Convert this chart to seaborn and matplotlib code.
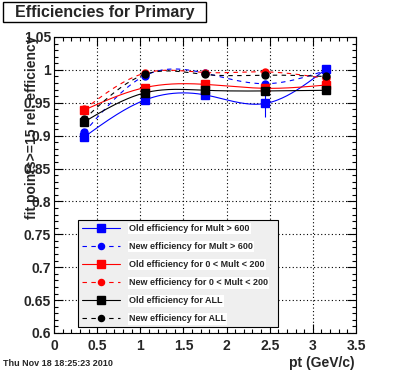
import numpy as np
import pandas as pd
import matplotlib
matplotlib.use("Agg")
import matplotlib.pyplot as plt
from matplotlib.lines import Line2D
from matplotlib.patches import Rectangle
from matplotlib.ticker import MultipleLocator, FormatStrFormatter
import seaborn as sns

sns.set_style("ticks")
plt.rcParams['font.family'] = ['Liberation Sans', 'DejaVu Sans']
plt.rcParams['font.weight'] = 'bold'

# pt bins (GeV/c)
pt = [0.35, 1.05, 1.75, 2.45, 3.15]

old_mult600 = [0.898, 0.954, 0.962, 0.949, 1.001]
old_mult600_err = [0.005, 0.004, 0.007, 0.021, 0.003]
new_mult600 = [0.905, 0.991, 0.995, 0.979, 0.999]
new_mult600_err = [0.004, 0.002, 0.002, 0.004, 0.002]

old_mult200 = [0.939, 0.973, 0.978, 0.972, 0.977]
old_mult200_err = [0.003, 0.002, 0.002, 0.003, 0.002]
new_mult200 = [0.940, 0.995, 0.996, 0.997, 0.987]
new_mult200_err = [0.003, 0.002, 0.002, 0.002, 0.002]

old_all = [0.921, 0.965, 0.969, 0.968, 0.969]
old_all_err = [0.003, 0.002, 0.002, 0.003, 0.002]
new_all = [0.925, 0.993, 0.993, 0.992, 0.990]
new_all_err = [0.003, 0.001, 0.001, 0.002, 0.002]

labels = ["Old efficiency for Mult > 600", "New efficiency for Mult > 600",
          "Old efficiency for 0 < Mult < 200", "New efficiency for 0 < Mult < 200",
          "Old efficiency for ALL", "New efficiency for ALL"]


def smooth_curve(x, y, n=150):
    # natural cubic spline, like ROOT's "C" draw option
    x = np.asarray(x, float)
    y = np.asarray(y, float)
    h = np.diff(x)
    k = len(x)
    A = np.zeros((k, k))
    b = np.zeros(k)
    A[0, 0] = A[-1, -1] = 1
    for i in range(1, k - 1):
        A[i, i - 1] = h[i - 1]
        A[i, i] = 2 * (h[i - 1] + h[i])
        A[i, i + 1] = h[i]
        b[i] = 6 * ((y[i + 1] - y[i]) / h[i] - (y[i] - y[i - 1]) / h[i - 1])
    M = np.linalg.solve(A, b)
    xs = np.linspace(x[0], x[-1], n)
    idx = np.clip(np.searchsorted(x, xs) - 1, 0, k - 2)
    x0, x1 = x[idx], x[idx + 1]
    hh = x1 - x0
    ys = (M[idx] * (x1 - xs) ** 3 / (6 * hh) + M[idx + 1] * (xs - x0) ** 3 / (6 * hh)
          + (y[idx] / hh - M[idx] * hh / 6) * (x1 - xs)
          + (y[idx + 1] / hh - M[idx + 1] * hh / 6) * (xs - x0))
    return xs, ys


W, H = 396, 372
fig = plt.figure(figsize=(W / 100, H / 100), dpi=100)
ax = fig.add_axes([54 / W, 1 - 333 / H, 302 / W, 296 / H])

series = [
    (old_mult600, old_mult600_err, 'blue', '-', 's'),
    (new_mult600, new_mult600_err, 'blue', (0, (4, 4)), 'o'),
    (old_mult200, old_mult200_err, 'red', '-', 's'),
    (new_mult200, new_mult200_err, 'red', (0, (4, 4)), 'o'),
    (old_all, old_all_err, 'black', '-', 's'),
    (new_all, new_all_err, 'black', (0, (4, 4)), 'o'),
]

handles = []
for (vals, errs, col, ls, mk), lab in zip(series, labels):
    xs, ys = smooth_curve(pt, vals)
    curve = pd.DataFrame({'pt': xs, 'eff': ys})
    sns.lineplot(data=curve, x='pt', y='eff', ax=ax, color=col, lw=0.8,
                 linestyle=ls, sort=False, estimator=None)
    ms = 5.8 if mk == 's' else 5.0
    ax.errorbar(pt, vals, yerr=errs, fmt=mk, color=col, ms=ms, elinewidth=0.8,
                capsize=0)
    handles.append(Line2D([], [], color=col, lw=0.8, linestyle=ls, marker=mk,
                          ms=ms - 0.6))

ax.set_xlim(0, 3.5)
ax.set_ylim(0.6, 1.05)
ax.xaxis.set_major_locator(MultipleLocator(0.5))
ax.xaxis.set_minor_locator(MultipleLocator(0.1))
ax.yaxis.set_major_locator(MultipleLocator(0.05))
ax.yaxis.set_minor_locator(MultipleLocator(0.01))
ax.xaxis.set_major_formatter(FormatStrFormatter('%g'))
ax.yaxis.set_major_formatter(FormatStrFormatter('%g'))
ax.tick_params(which='both', direction='in', top=True, right=True, width=0.8,
               color='black', labelsize=10)
ax.tick_params(which='major', length=6.5)
ax.tick_params(which='minor', length=3.2)
ax.tick_params(axis='y', pad=2)
ax.tick_params(axis='x', pad=4)
for lab in ax.get_xticklabels() + ax.get_yticklabels():
    lab.set_fontweight('bold')
ax.grid(True, which='major', color='black', linestyle=(0, (1, 2.2)), lw=0.8)
for sp in ax.spines.values():
    sp.set_linewidth(0.8)
    sp.set_color('black')
ax.set_xlabel('')
ax.set_ylabel('')

leg = ax.legend(handles, labels, loc='upper left',
                bbox_to_anchor=(78 / W, 1 - 220 / H, 200 / W, 0),
                bbox_transform=fig.transFigure, mode='expand',
                prop={'size': 6.5, 'weight': 'bold'}, handlelength=4.2,
                handletextpad=1.0, labelspacing=1.0, borderpad=0.45,
                borderaxespad=0, fancybox=False, frameon=True)
leg.get_frame().set_facecolor('#efefef')
leg.get_frame().set_edgecolor('black')
leg.get_frame().set_linewidth(0.8)
leg.get_frame().set_alpha(1)
for t in leg.get_texts():
    t.set_bbox(dict(facecolor='white', edgecolor='none', pad=1))

# axis titles, ROOT style
fig.text(32 / W, 1 - 36 / H, 'fit points>=15 rel. efficiency', rotation=90,
         ha='center', va='top', fontsize=10, fontweight='bold')
fig.text(355 / W, 1 - 363 / H, 'pt (GeV/c)', ha='right', va='center',
         fontsize=10, fontweight='bold')

# title box
fig.patches.append(Rectangle((3 / W, 1 - 22 / H), 203 / W, 20 / H,
                             transform=fig.transFigure, facecolor='white',
                             edgecolor='black', lw=1))
fig.text(105 / W, 1 - 12 / H, 'Efficiencies for Primary', ha='center',
         va='center', fontsize=11.5, fontweight='bold')

fig.text(3 / W, 1 - 364 / H, 'Thu Nov 18 18:25:23 2010', ha='left',
         va='center', fontsize=6.5, fontweight='bold')

fig.savefig('out.png', dpi=100)
